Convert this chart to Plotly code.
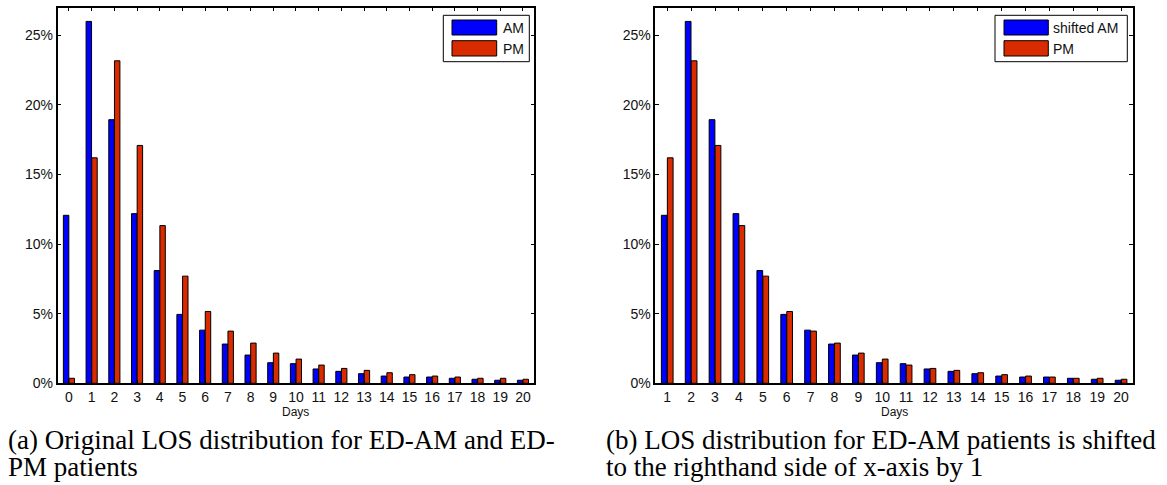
import plotly.graph_objects as go

# Length-of-stay distributions (% of patients) for days 0..20
days = list(range(0, 21))
am_pct = [12.07, 26.0, 18.94, 12.19, 8.10, 4.95, 3.82, 2.82, 2.03, 1.48, 1.41,
          1.03, 0.86, 0.69, 0.52, 0.45, 0.45, 0.36, 0.29, 0.22, 0.22]
pm_pct = [0.36, 16.2, 23.17, 17.09, 11.33, 7.70, 5.16, 3.75, 2.89, 2.17, 1.74,
          1.31, 1.07, 0.93, 0.76, 0.62, 0.52, 0.45, 0.36, 0.36, 0.29]

# AM distribution moved one day to the right, compared on days 1..20
shifted_days = days[1:]
shifted_am_pct = am_pct[:-1]
pm_on_shifted = pm_pct[1:]

y_ticks = [0, 5, 10, 15, 20, 25]

W, H = 1167, 485
BLUE = "#0000FF"
RED = "#DA2A00"


def px(x):
    return x / W


def py(y):
    return 1 - y / H


fig = go.Figure()

bar_line = dict(color="black", width=1)
fig.add_trace(go.Bar(x=days, y=am_pct, name="AM", marker=dict(color=BLUE, line=bar_line),
                     xaxis="x", yaxis="y", showlegend=False))
fig.add_trace(go.Bar(x=days, y=pm_pct, name="PM", marker=dict(color=RED, line=bar_line),
                     xaxis="x", yaxis="y", showlegend=False))
fig.add_trace(go.Bar(x=shifted_days, y=shifted_am_pct, name="shifted AM",
                     marker=dict(color=BLUE, line=bar_line),
                     xaxis="x2", yaxis="y2", showlegend=False))
fig.add_trace(go.Bar(x=shifted_days, y=pm_on_shifted, name="PM",
                     marker=dict(color=RED, line=bar_line),
                     xaxis="x2", yaxis="y2", showlegend=False))

tick_font = dict(family="Liberation Sans, Arial, sans-serif", size=14, color="#111")
common_axis = dict(showline=True, linecolor="black", linewidth=1.5, mirror="ticks",
                   ticks="inside", ticklen=4, tickcolor="black", tickwidth=1,
                   showgrid=False, zeroline=False, tickfont=tick_font, automargin=False)

y_top = py(7.5)
y_bot = py(383.3)
left_x = (57.6, 534.3)
right_x = (655.3, 1133.0)

fig.update_layout(
    width=W, height=H,
    margin=dict(l=0, r=0, t=0, b=0),
    paper_bgcolor="white", plot_bgcolor="white",
    barmode="group", bargap=0.5, bargroupgap=0.04,
    xaxis=dict(domain=[px(left_x[0]), px(left_x[1])], range=[-0.5, 20.5], tickmode="array",
               tickvals=days, ticktext=[str(d) for d in days], anchor="y", **common_axis),
    yaxis=dict(domain=[y_bot, y_top], range=[0, 27], tickmode="array", tickvals=y_ticks,
               ticktext=[f"{v}%" for v in y_ticks], anchor="x", **common_axis),
    xaxis2=dict(domain=[px(right_x[0]), px(right_x[1])], range=[0.5, 20.5], tickmode="array",
                tickvals=shifted_days, ticktext=[str(d) for d in shifted_days], anchor="y2",
                **common_axis),
    yaxis2=dict(domain=[y_bot, y_top], range=[0, 27], tickmode="array", tickvals=y_ticks,
                ticktext=[f"{v}%" for v in y_ticks], anchor="x2", **common_axis),
)

shapes = []
annotations = []

# x-axis titles
for x0, x1 in (left_x, right_x):
    annotations.append(dict(text="Days", xref="paper", yref="paper", x=px((x0 + x1) / 2),
                            y=py(412), xanchor="center", yanchor="middle", showarrow=False,
                            font=dict(family="Liberation Sans, Arial", size=12, color="#111")))


# Hand-drawn legends with wide swatches
def add_legend(box_x0, box_x1, sw_x0, sw_x1, text_x, labels):
    shapes.append(dict(type="rect", xref="paper", yref="paper",
                       x0=px(box_x0), x1=px(box_x1), y0=py(61.7), y1=py(15.3),
                       line=dict(color="black", width=1), fillcolor="white", layer="above"))
    rows = [(20, 35, 28), (40.7, 56, 49)]
    for (lab, col), (t, b, c) in zip(labels, rows):
        shapes.append(dict(type="rect", xref="paper", yref="paper",
                           x0=px(sw_x0), x1=px(sw_x1), y0=py(b), y1=py(t),
                           line=dict(color="black", width=1), fillcolor=col, layer="above"))
        annotations.append(dict(text=lab, xref="paper", yref="paper", x=px(text_x), y=py(c),
                                xanchor="left", yanchor="middle", showarrow=False,
                                font=dict(family="Liberation Sans, Arial", size=14, color="#111")))


add_legend(443.3, 529.3, 452, 496.7, 501, [("AM", BLUE), ("PM", RED)])
add_legend(995, 1127.3, 1004, 1048.3, 1050.5, [("shifted AM", BLUE), ("PM", RED)])

# Sub-figure captions
cap_font = dict(family="Liberation Serif, Times New Roman, serif", size=27, color="black")
captions = [
    (6, 440, "(a) Original LOS distribution for ED-AM and ED-"),
    (6, 466.5, "PM patients"),
    (604, 440, "(b) LOS distribution for ED-AM patients is shifted"),
    (604, 466.5, "to the righthand side of x-axis by 1"),
]
for cx, cy, txt in captions:
    annotations.append(dict(text=txt, xref="paper", yref="paper", x=px(cx), y=py(cy),
                            xanchor="left", yanchor="middle", showarrow=False, font=cap_font))

fig.update_layout(shapes=shapes, annotations=annotations)

fig.write_html("out.html")
